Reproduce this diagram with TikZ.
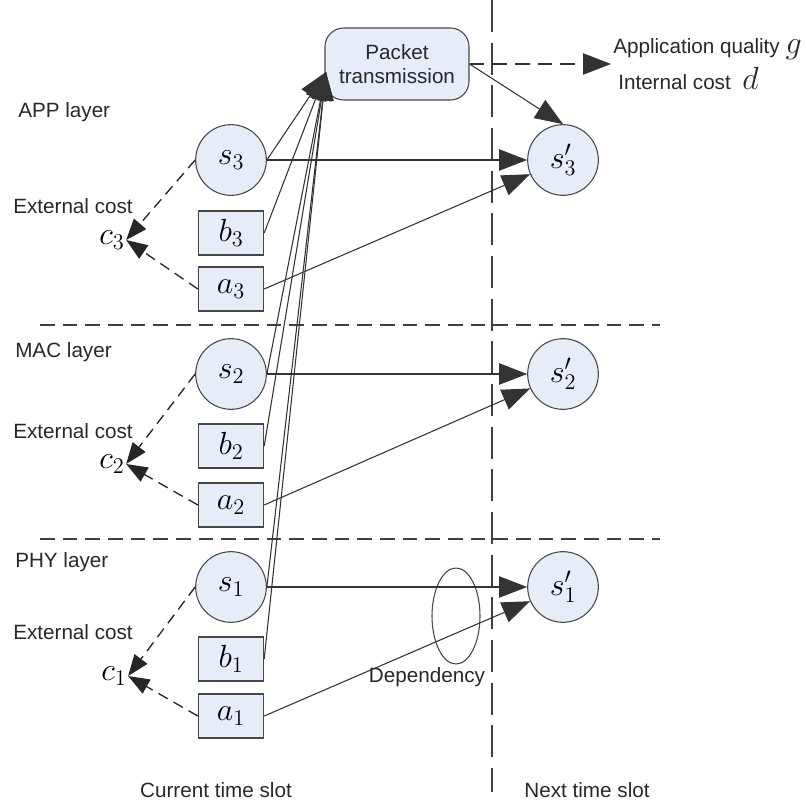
\RequirePackage{fix-cm}
\documentclass[tikz,border=0pt]{standalone}
\usepackage[no-math]{fontspec}
\newfontfamily\arialf{Liberation Sans}
\usetikzlibrary{arrows.meta,shapes.geometric}
\definecolor{nodefill}{RGB}{230,237,249}
\definecolor{edgecol}{RGB}{70,70,70}
\definecolor{txtcol}{RGB}{40,40,40}
\begin{document}
\begin{tikzpicture}[x=0.75pt,y=-0.75pt,
  lbl/.style={font=\arialf\fontsize{15.5}{18}\selectfont, text=txtcol, inner sep=0pt},
  mth/.style={font=\fontsize{24}{28}\selectfont, inner sep=1pt},
  state/.style={circle, draw=edgecol, fill=nodefill, minimum size=53pt, inner sep=0pt,
                font=\fontsize{24}{28}\selectfont, line width=0.8pt},
  act/.style={rectangle, draw=edgecol, fill=nodefill, minimum width=49pt, minimum height=33pt,
              inner sep=0pt, font=\fontsize{24}{28}\selectfont, line width=0.8pt},
  link/.style={draw=black!80, line width=0.8pt},
  bigtip/.style={-{Triangle[length=21pt,width=16pt]}},
  costtip/.style={-{Triangle[length=16pt,width=12pt]}, dash pattern=on 8pt off 5pt, line width=1pt, draw=black!85},
  sep/.style={draw=black!75, line width=1pt, dash pattern=on 11pt off 6pt},
  vsep/.style={draw=black!75, line width=1pt, dash pattern=on 24pt off 8pt}
]
\useasboundingbox (0,0) rectangle (806,805);

% separators
\coordinate (h1a) at (40,325);
\coordinate (h1b) at (660,325);
\coordinate (h2a) at (40,539);
\coordinate (h2b) at (660,539);
\coordinate (vt) at (492,0);
\coordinate (vb) at (492,792);
\draw[sep] (h1a) -- (h1b);
\draw[sep] (h2a) -- (h2b);
\draw[vsep] (vt) -- (vb);

% layer labels
\node[lbl, anchor=west] (app) at (18,112) {APP layer};
\node[lbl, anchor=west] (mac) at (15,352) {MAC layer};
\node[lbl, anchor=west] (phy) at (15,562) {PHY layer};
\node[lbl, anchor=west] (ec3) at (13,206) {External cost};
\node[lbl, anchor=west] (ec2) at (13,431) {External cost};
\node[lbl, anchor=west] (ec1) at (13,632) {External cost};
\node[lbl] (cur) at (216,790) {Current time slot};
\node[lbl] (nxt) at (587,790) {Next time slot};
\node[lbl] (deptxt) at (427,677) {Dependency};

% cost nodes
\node[mth] (c3) at (112,240) {$c_3$};
\node[mth] (c2) at (112,464) {$c_2$};
\node[mth] (c1) at (114,676) {$c_1$};

% state nodes
\node[state] (s3) at (231,160) {$s_3$};
\node[state] (s2) at (231,374) {$s_2$};
\node[state] (s1) at (231,587) {$s_1$};
\node[state] (s3p) at (563,160) {$s_3'$};
\node[state] (s2p) at (563,374) {$s_2'$};
\node[state] (s1p) at (563,587) {$s_1'$};

% action nodes
\node[act] (b3) at (231,233) {$b_3$};
\node[act] (a3) at (231,289) {$a_3$};
\node[act] (b2) at (231,446) {$b_2$};
\node[act] (a2) at (231,505) {$a_2$};
\node[act] (b1) at (231,659) {$b_1$};
\node[act] (a1) at (231,716) {$a_1$};

% packet transmission
\node[rectangle, rounded corners=14pt, draw=edgecol, fill=nodefill, line width=0.8pt,
      minimum width=108pt, minimum height=54pt, align=center,
      font=\arialf\fontsize{15.5}{18}\selectfont, text=txtcol] (pkt) at (397,64)
      {Packet\\transmission};
\coordinate (pin) at (326,72);

% outputs
\node[lbl, anchor=west] (aq) at (613,49) {Application quality \fontsize{24}{28}\selectfont$g$};
\node[lbl, anchor=west] (ic) at (618,78) {Internal cost \;\fontsize{24}{28}\selectfont$d$};
\coordinate (aqtip) at (611,64);

% dependency ellipse
\node[ellipse, draw=edgecol, line width=0.8pt, minimum width=36pt, minimum height=72pt,
      inner sep=0pt] (dep) at (456,616) {};

% links into packet transmission
\foreach \n in {s3,b3,s2,b2,s1,b1}
  \draw[link, bigtip] (\n.east) -- (pin);

% transitions
\draw[link, bigtip] (s3.east) -- (s3p.west);
\draw[link, bigtip] (a3.east) -- (s3p);
\draw[link, bigtip] (s2.east) -- (s2p.west);
\draw[link, bigtip] (a2.east) -- (s2p);
\draw[link, bigtip] (s1.east) -- (s1p.west);
\draw[link, bigtip] (a1.east) -- (s1p);
\draw[link, bigtip] (pkt.east) -- (s3p.north);
\draw[link, bigtip, line width=1pt, dash pattern=on 11pt off 6pt] (pkt.east) -- (aqtip);

% costs
\draw[costtip] (s3.west) -- (c3.east);
\draw[costtip] (a3.west) -- (c3.east);
\draw[costtip] (s2.west) -- (c2.east);
\draw[costtip] (a2.west) -- (c2.east);
\draw[costtip] (s1.west) -- (c1.east);
\draw[costtip] (a1.west) -- (c1.east);
\end{tikzpicture}
\end{document}
